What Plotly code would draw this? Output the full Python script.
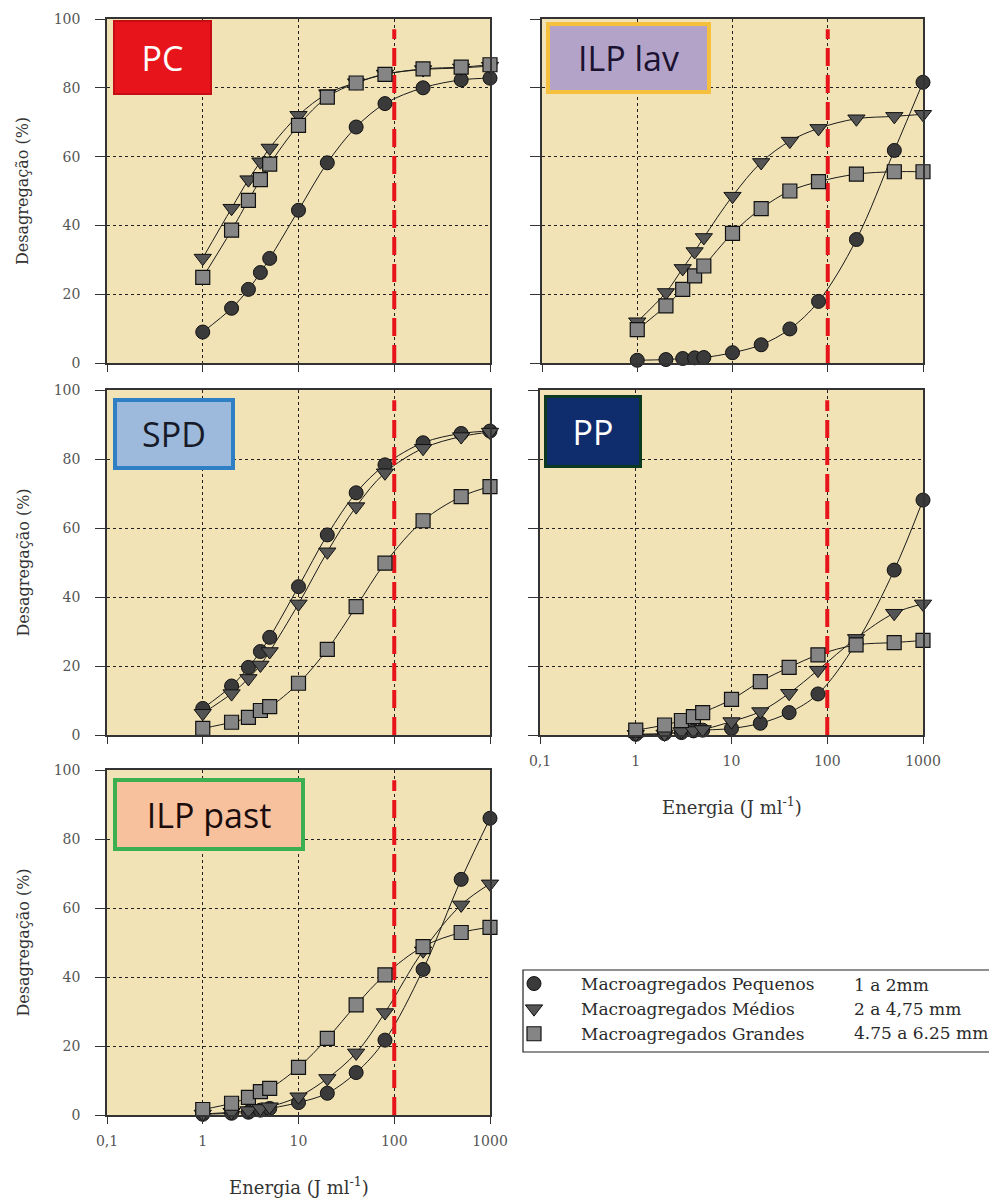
import plotly.graph_objects as go

# ---------------- data ----------------
energy = [1, 2, 3, 4, 5, 10, 20, 40, 80, 200, 500, 1000]
reference_energy = 100

pc_pequenos = [9.0, 15.9, 21.4, 26.3, 30.4, 44.4, 58.2, 68.6, 75.4, 80.0, 82.3, 82.8]
pc_medios = [30.5, 45.0, 53.3, 58.5, 62.5, 72.0, 78.3, 81.5, 84.0, 85.3, 85.8, 86.3]
pc_grandes = [24.9, 38.6, 47.3, 53.3, 57.8, 69.1, 77.3, 81.4, 83.9, 85.5, 86.0, 86.7]

ilp_lav_pequenos = [0.8, 1.0, 1.3, 1.5, 1.6, 3.0, 5.3, 9.9, 17.9, 35.9, 61.8, 81.6]
ilp_lav_medios = [12.0, 20.5, 27.5, 32.4, 36.5, 48.5, 58.3, 64.5, 68.2, 71.0, 71.7, 72.3]
ilp_lav_grandes = [9.7, 16.6, 21.4, 25.3, 28.2, 37.7, 44.9, 50.0, 52.7, 54.9, 55.6, 55.6]

spd_pequenos = [7.7, 14.2, 19.6, 24.2, 28.3, 43.0, 58.0, 70.2, 78.3, 84.7, 87.4, 88.1]
spd_medios = [6.3, 12.0, 16.4, 20.3, 24.2, 38.0, 53.1, 66.2, 76.0, 83.1, 86.5, 87.8]
spd_grandes = [1.9, 3.7, 5.1, 7.1, 8.2, 15.0, 24.8, 37.2, 49.8, 62.1, 69.1, 72.0]

pp_pequenos = [0.2, 0.4, 0.7, 1.2, 1.4, 1.9, 3.4, 6.5, 11.9, 26.6, 47.8, 68.1]
pp_medios = [0.2, 0.3, 1.0, 1.3, 1.6, 3.9, 6.8, 12.1, 18.8, 28.0, 35.3, 38.0]
pp_grandes = [1.4, 2.9, 4.2, 5.3, 6.5, 10.3, 15.5, 19.6, 23.2, 26.1, 26.8, 27.4]

ilp_past_pequenos = [0.2, 0.5, 0.8, 1.4, 1.9, 3.6, 6.3, 12.3, 21.7, 42.2, 68.3, 86.0]
ilp_past_medios = [0.3, 0.8, 1.3, 1.9, 2.4, 5.3, 10.6, 18.0, 29.7, 47.6, 60.9, 67.0]
ilp_past_grandes = [1.6, 3.4, 5.1, 6.8, 7.7, 13.8, 22.2, 31.9, 40.6, 48.8, 52.9, 54.4]

series_names = ["Macroagregados Pequenos", "Macroagregados Médios", "Macroagregados Grandes"]
series_sizes = ["1 a 2mm", "2 a 4,75 mm", "4.75 a 6.25 mm"]
panel_labels = ["PC", "ILP lav", "SPD", "PP", "ILP past"]

x_tick_vals = [0.1, 1, 10, 100, 1000]
x_tick_text = ["0,1", "1", "10", "100", "1000"]
y_tick_vals = [0, 20, 40, 60, 80, 100]

y_title = "Desagregação (%)"
x_title = "Energia (J ml<sup>-1</sup>)"

# ---------------- styling ----------------
OFF = 8                      # page body margin
W, H = 997 - OFF, 1200 - OFF
BG = "#F1E3B6"
SERIF = "DejaVu Serif"
SANS = "Open Sans"


def px_x(v):
    return (v - OFF) / W


def px_y(v):
    return 1 - (v - OFF) / H


marker_styles = [
    dict(symbol="circle", size=14, color="#3a3a3a", line=dict(color="#111", width=1)),
    dict(symbol="triangle-down", size=15, color="#555555", line=dict(color="#111", width=1)),
    dict(symbol="square", size=14, color="#858585", line=dict(color="#111", width=1.2)),
]

label_styles = [
    dict(bg="#E8141C", border="#C40E14", bw=2, fc="white", w=95, h=71),
    dict(bg="#B3A3C8", border="#F5C03E", bw=4, fc="#1b1230", w=157, h=64),
    dict(bg="#9DB9DB", border="#2F7FC4", bw=4, fc="#161a28", w=114, h=64),
    dict(bg="#0F2C6C", border="#0B3A20", bw=3, fc="white", w=92, h=67),
    dict(bg="#F7C19D", border="#3CB050", bw=4, fc="#1a0c0c", w=184, h=65),
]

# plot areas in page pixels: (left, right, top, bottom)
areas = [
    (107, 490, 19, 363),
    (542, 923, 19, 363),
    (107, 490, 390, 735),
    (540, 923, 390, 735),
    (107, 490, 770, 1115),
]
label_offsets = [(6, 1), (4, 3), (6, 8), (4, 5), (6, 8)]
show_x_labels = [False, False, False, True, True]
show_y_labels = [True, False, True, False, True]

panels = [
    (pc_pequenos, pc_medios, pc_grandes),
    (ilp_lav_pequenos, ilp_lav_medios, ilp_lav_grandes),
    (spd_pequenos, spd_medios, spd_grandes),
    (pp_pequenos, pp_medios, pp_grandes),
    (ilp_past_pequenos, ilp_past_medios, ilp_past_grandes),
]

fig = go.Figure()
layout = dict(
    width=W, height=H, margin=dict(l=0, r=0, t=0, b=0, pad=0, autoexpand=False),
    paper_bgcolor="white", plot_bgcolor=BG,
    showlegend=True,
    legend=dict(
        x=px_x(514), y=px_y(966), xanchor="left", yanchor="top",
        bgcolor="rgba(0,0,0,0)", borderwidth=0,
        font=dict(family=SERIF, size=17, color="#2a2a2a"),
        tracegroupgap=0,
    ),
)
annotations = []
shapes = []

for i, (series, area) in enumerate(zip(panels, areas)):
    n = "" if i == 0 else str(i + 1)
    xa, ya = "x" + n, "y" + n
    left, right, top, bottom = area
    # fitted curves
    for k, vals in enumerate(series):
        fig.add_trace(go.Scatter(
            x=energy, y=vals, xaxis=xa, yaxis=ya, mode="lines",
            line=dict(color="#1a1a1a", width=1, shape="spline", smoothing=1.0),
            showlegend=False, hoverinfo="skip",
        ))
    # reference line
    fig.add_trace(go.Scatter(
        x=[reference_energy, reference_energy], y=[0, 97], xaxis=xa, yaxis=ya,
        mode="lines", line=dict(color="#E8141C", width=4, dash="18px,9px"),
        showlegend=False, hoverinfo="skip",
    ))
    # measured points
    for k, vals in enumerate(series):
        fig.add_trace(go.Scatter(
            x=energy, y=vals, xaxis=xa, yaxis=ya, mode="markers",
            marker=marker_styles[k],
            name="\u00a0" * 5 + series_names[k],
            showlegend=(i == 0),
            cliponaxis=False,
        ))
    layout["xaxis" + n] = dict(
        type="log", range=[-1, 3], domain=[px_x(left), px_x(right)], anchor=ya,
        tickvals=x_tick_vals, ticktext=x_tick_text, showticklabels=show_x_labels[i],
        ticks="outside", ticklen=7, tickwidth=1.3, tickcolor="#333",
        showline=True, linecolor="#333", linewidth=1.5, mirror=True,
        showgrid=True, gridcolor="#222", griddash="dot", gridwidth=1.4,
        zeroline=False, ticklabelstandoff=5, automargin=False,
        tickfont=dict(family=SERIF, size=14, color="#555"),
    )
    layout["yaxis" + n] = dict(
        range=[0, 100], domain=[px_y(bottom), px_y(top)], anchor=xa,
        tickvals=y_tick_vals, showticklabels=show_y_labels[i],
        ticks="outside", ticklen=10, tickwidth=1.3, tickcolor="#333",
        showline=True, linecolor="#333", linewidth=1.5, mirror=True,
        showgrid=True, gridcolor="#222", griddash="dot", gridwidth=1.4,
        zeroline=False, ticklabelstandoff=12, automargin=False,
        tickfont=dict(family=SERIF, size=14, color="#555"),
    )
    # panel label box
    st = label_styles[i]
    dx, dy = label_offsets[i]
    annotations.append(dict(
        xref=xa + " domain", yref=ya + " domain",
        x=dx / (right - left), y=1 - dy / (bottom - top),
        xanchor="left", yanchor="top", showarrow=False,
        text=panel_labels[i], width=st["w"], height=st["h"],
        bgcolor=st["bg"], bordercolor=st["border"], borderwidth=st["bw"], borderpad=0,
        font=dict(family=SANS, size=34, color=st["fc"]), align="center", valign="middle",
    ))
    # y titles
    if show_y_labels[i]:
        annotations.append(dict(
            xref="paper", yref="paper", x=px_x(23), y=px_y((top + bottom) / 2),
            text=y_title, textangle=-90, showarrow=False,
            font=dict(family=SERIF, size=16, color="#333"),
            xanchor="center", yanchor="middle",
        ))
    # x titles
    if show_x_labels[i]:
        annotations.append(dict(
            xref="paper", yref="paper", x=px_x((left + right) / 2), y=px_y(bottom + 71),
            text=x_title, showarrow=False,
            font=dict(family=SERIF, size=18, color="#333"),
            xanchor="center", yanchor="middle",
        ))

# legend frame and size column
shapes.append(dict(
    type="rect", xref="paper", yref="paper",
    x0=px_x(523), x1=px_x(995), y0=px_y(1052), y1=px_y(970),
    line=dict(color="#222", width=1.2), fillcolor="rgba(0,0,0,0)",
))
row_y = [985, 1009, 1033]
for k, txt in enumerate(series_sizes):
    annotations.append(dict(
        xref="paper", yref="paper", x=px_x(852), y=px_y(row_y[k]),
        xanchor="left", yanchor="middle", showarrow=False, text=txt,
        font=dict(family=SERIF, size=17, color="#2a2a2a"),
    ))

layout["annotations"] = annotations
layout["shapes"] = shapes
fig.update_layout(**layout)
fig.write_html("out.html")
